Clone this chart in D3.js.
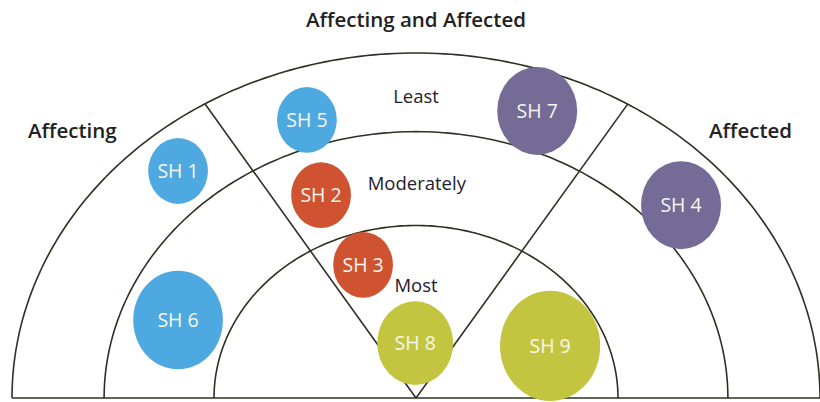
<!DOCTYPE html>
<html>
<head>
<meta charset="utf-8">
<script src="https://cdn.jsdelivr.net/npm/d3@7"></script>
<style>
  body { margin: 0; background: #fff; }
  text { font-family: "Open Sans", Lato, sans-serif; }
</style>
</head>
<body>
<div class="chart"></div>
<script>
// rings, outer to inner, as a share of the outer radius
let rings = [1, 0.772, 0.5];
let ringLabels = ['Least', 'Moderately', 'Most'];
let ringLabelPos = [[0, 0.855], [0.002, 0.603], [0, 0.307]];

// wedge edges, angle from vertical (degrees)
let wedgeAngles = [-31.5, 31.6];

let names = ['SH 1', 'SH 2', 'SH 3', 'SH 4', 'SH 5', 'SH 6', 'SH 7', 'SH 8', 'SH 9'];
let groups = ['affecting', 'both', 'both', 'affected', 'affecting', 'affecting', 'affected', 'most', 'most'];
let cxs = [-0.589, -0.235, -0.131, 0.656, -0.270, -0.589, 0.300, -0.002, 0.332];
let cys = [0.658, 0.588, 0.386, 0.559, 0.806, 0.226, 0.832, 0.159, 0.151];
let sizes = [0.074, 0.074, 0.074, 0.099, 0.074, 0.111, 0.099, 0.094, 0.124];

let colors = { affecting: '#4fa9e1', both: '#cf5331', affected: '#746b96', most: '#c3c540' };

let width = 820, height = 402;
let canvas = d3.select('.chart')
  .append('svg')
  .attr('width', width)
  .attr('height', height);

let x = d3.scaleLinear().domain([-1, 1]).range([12, 820]);
let y = d3.scaleLinear().domain([0, 1]).range([398, 53]);

let stroke = '#2d3120';

// base line
canvas.append('line')
  .attr('x1', x(-1)).attr('x2', width)
  .attr('y1', y(0)).attr('y2', y(0))
  .attr('stroke', stroke)
  .attr('stroke-width', 1.6);

// half ellipses
let arcLine = d3.line()
  .x(d => x(d[0]))
  .y(d => y(d[1]));

rings.forEach(r => {
  let pts = d3.range(0, 181).map(a => {
    let t = a * Math.PI / 180;
    return [-r * Math.cos(t), r * Math.sin(t)];
  });
  canvas.append('path')
    .attr('d', arcLine(pts))
    .attr('fill', 'none')
    .attr('stroke', stroke)
    .attr('stroke-width', 1.6);
});

// wedge lines from the centre to the outer ring
wedgeAngles.forEach(a => {
  let t = a * Math.PI / 180;
  canvas.append('line')
    .attr('x1', x(0)).attr('y1', y(0))
    .attr('x2', x(Math.sin(t))).attr('y2', y(Math.cos(t)))
    .attr('stroke', stroke)
    .attr('stroke-width', 1.6);
});

// titles
canvas.append('text')
  .attr('x', 416).attr('y', 27)
  .attr('text-anchor', 'middle')
  .attr('font-size', 20.5)
  .attr('font-weight', 600)
  .attr('fill', '#222')
  .text('Affecting and Affected');

canvas.append('text')
  .attr('x', 28).attr('y', 138)
  .attr('font-size', 20.5)
  .attr('font-weight', 600)
  .attr('fill', '#222')
  .text('Affecting');

canvas.append('text')
  .attr('x', 709).attr('y', 138)
  .attr('font-size', 20.5)
  .attr('font-weight', 600)
  .attr('fill', '#222')
  .text('Affected');

ringLabels.forEach((t, i) => {
  canvas.append('text')
    .attr('x', x(ringLabelPos[i][0]))
    .attr('y', y(ringLabelPos[i][1]))
    .attr('text-anchor', 'middle')
    .attr('font-size', 18.5)
    .attr('fill', '#1e2030')
    .text(t);
});

// stakeholder bubbles
let bubbles = canvas.selectAll('g.bubble')
  .data(names.map((n, i) => ({ name: n, group: groups[i], cx: cxs[i], cy: cys[i], r: sizes[i] })))
  .enter()
  .append('g')
  .attr('class', 'bubble')
  .attr('transform', d => `translate(${x(d.cx)},${y(d.cy)})`);

bubbles.append('ellipse')
  .attr('rx', d => x(d.r) - x(0))
  .attr('ry', d => (x(d.r) - x(0)) * 1.1)
  .attr('fill', d => colors[d.group]);

bubbles.append('text')
  .attr('text-anchor', 'middle')
  .attr('dy', 7)
  .attr('font-size', 19.5)
  .attr('fill', '#f6f6ee')
  .text(d => d.name);
</script>
</body>
</html>
